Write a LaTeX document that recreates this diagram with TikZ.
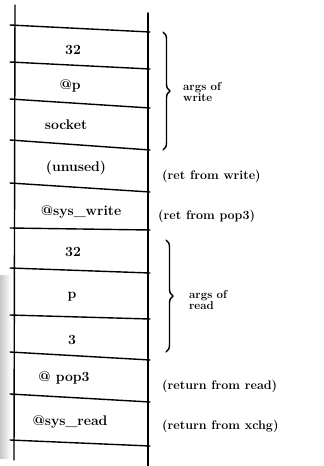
\documentclass[tikz,border=0pt]{standalone}
\usetikzlibrary{decorations.pathreplacing}
\begin{document}
\begin{tikzpicture}[x=1pt,y=-1pt,
  ink/.style={line width=1.4pt,line cap=round,black},
  cell/.style={font=\fontsize{14}{14}\selectfont\bfseries,inner sep=1pt},
  note/.style={font=\fontsize{12.5}{13}\selectfont\bfseries,inner sep=1pt,anchor=west},
  bracenote/.style={font=\fontsize{11.5}{11}\selectfont\bfseries,inner sep=1pt,anchor=west,align=left},
  curly/.style={ink,decorate,decoration={brace,amplitude=7pt}}]
\useasboundingbox (0,0) rectangle (324,466);
% scanner shadow along the left edge
\shade[left color=black!22,right color=white] (0,275) rectangle (11,458);
% stack walls
\draw[ink] (15,5) -- (14,460);
\draw[ink] (148,13) -- (148,466);
% slot boundaries (slightly slanted)
\foreach \yl/\yr in {25/32,62/69,99/108,140/150,183/192,228/230,268/273,315/319,352/360,394/402,440/446}
  \draw[ink] (10,\yl) -- (150,\yr);
% slot contents
\node[cell] (s1) at (73,50) {32};
\node[cell] (s2) at (70,86) {@p};
\node[cell] (s3) at (66,125) {socket};
\node[cell] (s4) at (76,168) {(unused)};
\node[cell] (s5) at (81,212) {@sys\_write};
\node[cell] (s6) at (73,252) {32};
\node[cell] (s7) at (72,297) {p};
\node[cell] (s8) at (72,340) {3};
\node[cell] (s9) at (64,378) {@ pop3};
\node[cell] (s10) at (70,422) {@sys\_read};
% argument groups
\coordinate (w1) at (163,32);
\coordinate (w2) at (163,150);
\draw[curly] (w1) -- (w2);
\node[bracenote] (wl) at (182,92) {args of\\write};
\coordinate (r1) at (166,240);
\coordinate (r2) at (166,352);
\draw[curly] (r1) -- (r2);
\node[bracenote] (rl) at (188,300) {args of\\read};
% return-address notes
\node[note] (n1) at (161,176) {(ret from write)};
\node[note] (n2) at (157,216) {(ret from pop3)};
\node[note] (n3) at (161,386) {(return from read)};
\node[note] (n4) at (161,426) {(return from xchg)};
\end{tikzpicture}
\end{document}
